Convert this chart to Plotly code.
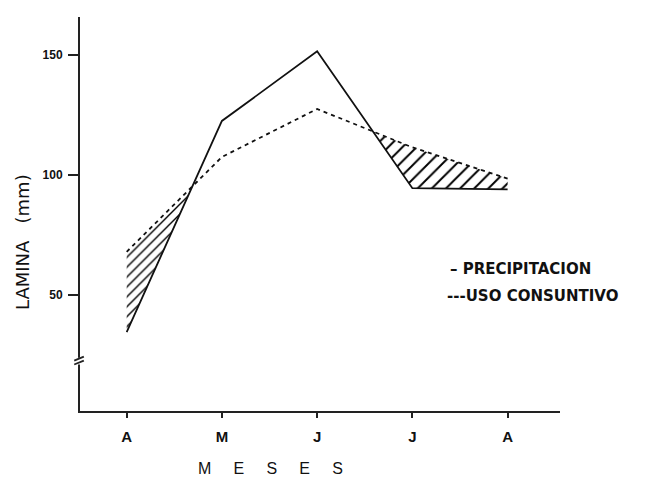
import plotly.graph_objects as go

# ---- data ----
meses = ["A", "M", "J", "J", "A"]
mes_pos = [0, 1, 2, 3, 4]
precipitacion = [34.6, 122.5, 151.5, 94.5, 94.0]
uso_consuntivo = [68.0, 107.5, 127.5, 111.5, 98.5]
y_ticks = [50, 100, 150]


def deficit_regions(xs, lo, hi):
    """Polygons where hi > lo (uso > precipitacion), with crossings interpolated."""
    regions, cur_top, cur_bot = [], [], []
    for i in range(len(xs)):
        d = hi[i] - lo[i]
        if d >= 0:
            cur_top.append((xs[i], hi[i]))
            cur_bot.append((xs[i], lo[i]))
        if i < len(xs) - 1:
            d1 = hi[i + 1] - lo[i + 1]
            if (d >= 0) != (d1 >= 0):
                t = d / (d - d1)
                xc = xs[i] + t * (xs[i + 1] - xs[i])
                yc = lo[i] + t * (lo[i + 1] - lo[i])
                cur_top.append((xc, yc))
                cur_bot.append((xc, yc))
                if d >= 0:
                    regions.append((cur_top, cur_bot))
                    cur_top, cur_bot = [], []
    if cur_top:
        regions.append((cur_top, cur_bot))
    return regions


fig = go.Figure()

for k, (top, bot) in enumerate(deficit_regions(mes_pos, precipitacion, uso_consuntivo)):
    pts = top + bot[::-1]
    fig.add_trace(go.Scatter(
        x=[p[0] for p in pts] + [pts[0][0]],
        y=[p[1] for p in pts] + [pts[0][1]],
        mode="lines", fill="toself", line=dict(width=0),
        fillcolor="rgba(0,0,0,0)",
        fillpattern=dict(shape="/", fgcolor="#000", fgopacity=1,
                         bgcolor="rgba(0,0,0,0)",
                         size=7 if k == 0 else 10, solidity=0.2),
        hoverinfo="skip", showlegend=False))

fig.add_trace(go.Scatter(x=mes_pos, y=precipitacion, mode="lines",
                         line=dict(color="#111", width=1.8),
                         name="PRECIPITACION", showlegend=False))
fig.add_trace(go.Scatter(x=mes_pos, y=uso_consuntivo, mode="lines",
                         line=dict(color="#111", width=1.8, dash="4px,4px"),
                         name="USO CONSUNTIVO", showlegend=False))

font = "Liberation Sans, Arial, sans-serif"
wide = "DejaVu Sans, Arial, sans-serif"

# page body adds an 8px offset, so the figure is 8px smaller in both directions
fig.update_layout(
    width=637, height=477,
    margin=dict(l=72, r=85, t=9, b=74),
    paper_bgcolor="white", plot_bgcolor="white",
    font=dict(family=font, color="#111"),
    xaxis=dict(range=[-0.49, 4.55], tickvals=mes_pos,
               ticktext=["<b>%s</b>" % m for m in meses],
               showgrid=False, zeroline=False, showline=True, linecolor="#222",
               linewidth=2, ticks="outside", ticklen=5, tickwidth=1.5,
               ticklabelstandoff=6,
               tickcolor="#222", tickfont=dict(size=15, family=font, color="#111")),
    yaxis=dict(range=[1.7, 165.8], tickvals=y_ticks,
               ticktext=["<b>%d</b>" % v for v in y_ticks],
               showgrid=False, zeroline=False, showline=True, linecolor="#222",
               linewidth=2, ticks="outside", ticklen=10, tickwidth=1.5,
               ticklabelstandoff=3,
               tickcolor="#222", tickfont=dict(size=12, family=font, color="#111")),
    annotations=[
        dict(text="LAMINA   (mm)", textangle=-90, x=-0.12, xref="paper",
             xanchor="center", y=0.43, yref="paper", showarrow=False,
             font=dict(size=18, family=wide, color="#111")),
        dict(text="M     E     S     E     S", x=0.396, xref="paper",
             y=-0.12, yref="paper", showarrow=False, yanchor="top",
             font=dict(size=16, family=font, color="#111")),
        dict(text="<b>– PRECIPITACION</b>", x=0.766, xref="paper",
             y=0.36, yref="paper", xanchor="left", showarrow=False,
             font=dict(size=15, family=wide, color="#111")),
        dict(text="<b>---USO CONSUNTIVO</b>", x=0.76, xref="paper",
             y=0.265, yref="paper", xanchor="left", showarrow=False,
             font=dict(size=15, family=wide, color="#111")),
    ],
    shapes=[
        # axis break
        dict(type="rect", xref="paper", yref="paper", x0=-0.01, x1=0.01,
             y0=0.118, y1=0.135, fillcolor="white", line=dict(width=0)),
        dict(type="line", xref="paper", yref="paper", x0=-0.012, x1=0.008,
             y0=0.118, y1=0.128, line=dict(color="#222", width=1.8)),
        dict(type="line", xref="paper", yref="paper", x0=-0.012, x1=0.008,
             y0=0.128, y1=0.138, line=dict(color="#222", width=1.8)),
    ],
)

fig.write_html("out.html")
